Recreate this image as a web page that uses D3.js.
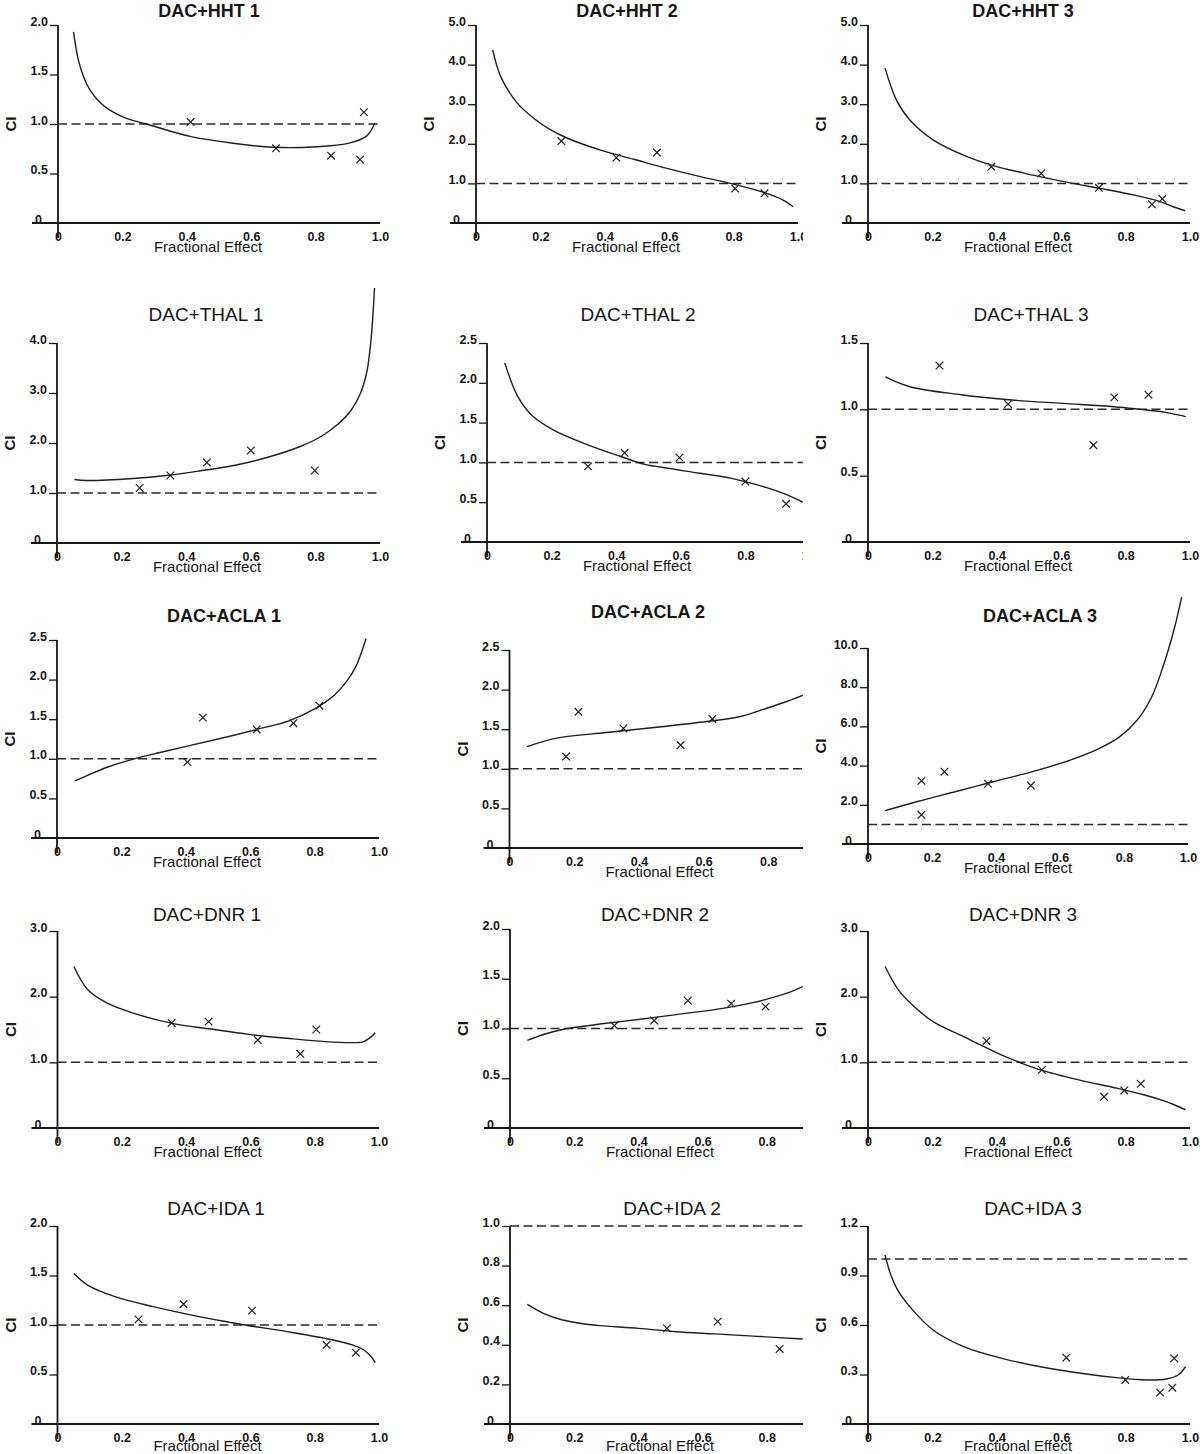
<!DOCTYPE html>
<html><head><meta charset="utf-8">
<script src="https://cdn.jsdelivr.net/npm/d3@7"></script>
<style>body{margin:0;background:#fff} svg{display:block;font-family:"Liberation Sans",Arial,sans-serif}</style>
</head><body>
<svg id="c" width="1200" height="1454"></svg>
<script>
// ---------------- DATA ----------------
const panelTitles = ["DAC+HHT 1","DAC+HHT 2","DAC+HHT 3",
  "DAC+THAL 1","DAC+THAL 2","DAC+THAL 3",
  "DAC+ACLA 1","DAC+ACLA 2","DAC+ACLA 3",
  "DAC+DNR 1","DAC+DNR 2","DAC+DNR 3",
  "DAC+IDA 1","DAC+IDA 2","DAC+IDA 3"];
const xAxisTitle = "Fractional Effect";
const yAxisTitle = "CI";
const xTickValues = [0,0.2,0.4,0.6,0.8,1.0];
const xTickLabels = ["0","0.2","0.4","0.6","0.8","1.0"];
const yTickValues = [
  [0,0.5,1,1.5,2],[0,1,2,3,4,5],[0,1,2,3,4,5],
  [0,1,2,3,4],[0,0.5,1,1.5,2,2.5],[0,0.5,1,1.5],
  [0,0.5,1,1.5,2,2.5],[0,0.5,1,1.5,2,2.5],[0,2,4,6,8,10],
  [0,1,2,3],[0,0.5,1,1.5,2],[0,1,2,3],
  [0,0.5,1,1.5,2],[0,0.2,0.4,0.6,0.8,1.0],[0,0.3,0.6,0.9,1.2]];
const yTickLabels = [
  ["0","0.5","1.0","1.5","2.0"],["0","1.0","2.0","3.0","4.0","5.0"],["0","1.0","2.0","3.0","4.0","5.0"],
  ["0","1.0","2.0","3.0","4.0"],["0","0.5","1.0","1.5","2.0","2.5"],["0","0.5","1.0","1.5"],
  ["0","0.5","1.0","1.5","2.0","2.5"],["0","0.5","1.0","1.5","2.0","2.5"],["0","2.0","4.0","6.0","8.0","10.0"],
  ["0","1.0","2.0","3.0"],["0","0.5","1.0","1.5","2.0"],["0","1.0","2.0","3.0"],
  ["0","0.5","1.0","1.5","2.0"],["0","0.2","0.4","0.6","0.8","1.0"],["0","0.3","0.6","0.9","1.2"]];
const additivityLine = 1.0;

// curves: [fractional effect, CI]
const hht1Curve = [[0.048,1.93],[0.063,1.65],[0.079,1.48],[0.10,1.34],[0.13,1.22],[0.161,1.14],[0.21,1.06],[0.275,1.0],[0.41,0.875],[0.544,0.805],[0.669,0.765],[0.803,0.77],[0.907,0.81],[0.959,0.88],[0.984,1.01]];
const hht1Points = [[0.412,1.02],[0.677,0.755],[0.848,0.68],[0.938,0.64],[0.95,1.12]];
const hht2Curve = [[0.052,4.37],[0.077,3.69],[0.129,3.02],[0.18,2.64],[0.232,2.35],[0.284,2.14],[0.387,1.84],[0.49,1.61],[0.593,1.38],[0.697,1.17],[0.80,0.98],[0.903,0.75],[0.954,0.58],[0.985,0.41]];
const hht2Points = [[0.265,2.07],[0.436,1.65],[0.562,1.78],[0.805,0.87],[0.896,0.75]];
const hht3Curve = [[0.053,3.91],[0.088,3.11],[0.13,2.6],[0.202,2.10],[0.306,1.68],[0.388,1.45],[0.512,1.21],[0.636,1.00],[0.72,0.875],[0.824,0.71],[0.907,0.54],[0.948,0.41],[0.985,0.31]];
const hht3Points = [[0.383,1.42],[0.538,1.25],[0.717,0.89],[0.882,0.47],[0.914,0.61]];
const thal1Curve = [[0.054,1.27],[0.09,1.25],[0.235,1.29],[0.338,1.35],[0.44,1.44],[0.547,1.55],[0.65,1.71],[0.753,1.93],[0.82,2.14],[0.87,2.38],[0.909,2.64],[0.94,3.0],[0.96,3.45],[0.972,4.05],[0.979,4.65],[0.983,5.1]];
const thal1Points = [[0.256,1.10],[0.351,1.35],[0.464,1.61],[0.60,1.85],[0.798,1.45]];
const thal2Curve = [[0.055,2.25],[0.095,1.83],[0.142,1.58],[0.205,1.41],[0.30,1.24],[0.41,1.08],[0.489,0.975],[0.564,0.925],[0.615,0.89],[0.757,0.80],[0.868,0.68],[0.931,0.59],[0.978,0.50]];
const thal2Points = [[0.313,0.95],[0.426,1.12],[0.596,1.06],[0.80,0.76],[0.926,0.48]];
const thal3Curve = [[0.054,1.244],[0.13,1.17],[0.289,1.11],[0.447,1.07],[0.606,1.045],[0.765,1.02],[0.844,1.0],[0.924,0.977],[0.987,0.945]];
const thal3Points = [[0.222,1.33],[0.435,1.04],[0.70,0.73],[0.765,1.09],[0.871,1.11]];
const acla1Curve = [[0.055,0.72],[0.1,0.8],[0.16,0.9],[0.24,1.0],[0.32,1.08],[0.405,1.16],[0.5,1.25],[0.62,1.37],[0.72,1.48],[0.8,1.63],[0.86,1.8],[0.9,1.98],[0.93,2.18],[0.96,2.52]];
const acla1Points = [[0.405,0.958],[0.453,1.52],[0.62,1.37],[0.734,1.45],[0.815,1.67]];
const acla2Curve = [[0.054,1.28],[0.146,1.387],[0.30,1.458],[0.455,1.525],[0.61,1.597],[0.713,1.66],[0.795,1.765],[0.857,1.85],[0.908,1.93]];
const acla2Points = [[0.175,1.155],[0.213,1.72],[0.352,1.51],[0.529,1.30],[0.627,1.63]];
const acla3Curve = [[0.053,1.7],[0.155,2.17],[0.275,2.68],[0.394,3.19],[0.514,3.69],[0.634,4.29],[0.72,4.85],[0.785,5.45],[0.84,6.3],[0.885,7.45],[0.92,8.95],[0.957,10.98],[0.98,12.6]];
const acla3Points = [[0.167,3.22],[0.239,3.69],[0.167,1.49],[0.375,3.07],[0.509,2.98]];
const dnr1Curve = [[0.051,2.46],[0.095,2.10],[0.155,1.90],[0.238,1.745],[0.357,1.593],[0.476,1.507],[0.595,1.426],[0.714,1.366],[0.833,1.315],[0.917,1.30],[0.952,1.315],[0.976,1.39],[0.988,1.45]];
const dnr1Points = [[0.355,1.60],[0.47,1.62],[0.623,1.34],[0.755,1.13],[0.805,1.50]];
const dnr2Curve = [[0.054,0.88],[0.104,0.94],[0.164,0.99],[0.235,1.025],[0.28,1.045],[0.40,1.09],[0.518,1.14],[0.638,1.19],[0.757,1.26],[0.817,1.31],[0.876,1.37],[0.912,1.42]];
const dnr2Points = [[0.325,1.03],[0.449,1.08],[0.554,1.28],[0.689,1.25],[0.796,1.22]];
const dnr3Curve = [[0.053,2.46],[0.095,2.10],[0.143,1.85],[0.202,1.62],[0.297,1.39],[0.416,1.11],[0.475,0.99],[0.535,0.885],[0.654,0.733],[0.772,0.607],[0.856,0.506],[0.915,0.42],[0.951,0.354],[0.986,0.278]];
const dnr3Points = [[0.368,1.325],[0.54,0.885],[0.733,0.475],[0.796,0.572],[0.847,0.673]];
const ida1Curve = [[0.051,1.52],[0.095,1.40],[0.179,1.286],[0.298,1.185],[0.417,1.10],[0.536,1.027],[0.595,0.993],[0.714,0.933],[0.833,0.865],[0.917,0.80],[0.952,0.75],[0.976,0.68],[0.988,0.62]];
const ida1Points = [[0.252,1.057],[0.392,1.21],[0.605,1.145],[0.837,0.80],[0.928,0.72]];
const ida2Curve = [[0.054,0.604],[0.104,0.559],[0.164,0.525],[0.235,0.505],[0.28,0.497],[0.40,0.483],[0.518,0.466],[0.638,0.455],[0.757,0.444],[0.912,0.429]];
const ida2Points = [[0.489,0.483],[0.647,0.517],[0.84,0.379]];
const ida3Curve = [[0.053,1.024],[0.071,0.903],[0.095,0.802],[0.143,0.681],[0.202,0.570],[0.297,0.469],[0.416,0.398],[0.594,0.327],[0.772,0.281],[0.868,0.267],[0.927,0.273],[0.963,0.297],[0.986,0.347]];
const ida3Points = [[0.616,0.402],[0.799,0.267],[0.907,0.19],[0.945,0.22],[0.951,0.398]];

const panelCurves = [hht1Curve,hht2Curve,hht3Curve,thal1Curve,thal2Curve,thal3Curve,acla1Curve,acla2Curve,acla3Curve,dnr1Curve,dnr2Curve,dnr3Curve,ida1Curve,ida2Curve,ida3Curve];
const panelPoints = [hht1Points,hht2Points,hht3Points,thal1Points,thal2Points,thal3Points,acla1Points,acla2Points,acla3Points,dnr1Points,dnr2Points,dnr3Points,ida1Points,ida2Points,ida3Points];

// ---------------- LAYOUT (pixel positions) ----------------
const layout = [
  {x0:58,  x1:380,  yTop:25,   yZero:223,  tx:209,  ty:17,   tw:"bold",   ts:18},
  {x0:476, x1:798,  yTop:25,   yZero:223,  tx:627,  ty:17,   tw:"bold",   ts:18, clip:true},
  {x0:868, x1:1190, yTop:25,   yZero:223,  tx:1023, ty:17,   tw:"bold",   ts:18},
  {x0:57,  x1:380,  yTop:343,  yZero:543,  tx:206,  ty:321,  tw:"normal", ts:19},
  {x0:487, x1:810,  yTop:343,  yZero:542,  tx:638,  ty:321,  tw:"normal", ts:19, clip:true},
  {x0:868, x1:1190, yTop:343,  yZero:542,  tx:1031, ty:321,  tw:"normal", ts:19},
  {x0:57,  x1:379,  yTop:640,  yZero:838,  tx:224,  ty:622,  tw:"bold",   ts:18},
  {x0:509.5,x1:833, yTop:650,  yZero:848,  tx:648,  ty:618,  tw:"bold",   ts:18, clip:true},
  {x0:868, x1:1188, yTop:648,  yZero:844,  tx:1040, ty:622,  tw:"bold",   ts:18},
  {x0:57.5,x1:379,  yTop:931,  yZero:1128, tx:207,  ty:921,  tw:"normal", ts:19},
  {x0:510, x1:831,  yTop:929,  yZero:1128, tx:655,  ty:921,  tw:"normal", ts:19, clip:true},
  {x0:868, x1:1190, yTop:931,  yZero:1128, tx:1023, ty:921,  tw:"normal", ts:19},
  {x0:57.5,x1:379,  yTop:1226, yZero:1424, tx:216,  ty:1215, tw:"normal", ts:19, fe:27},
  {x0:510, x1:831,  yTop:1226, yZero:1424, tx:672,  ty:1215, tw:"normal", ts:19, clip:true, fe:27},
  {x0:868, x1:1190, yTop:1226, yZero:1424, tx:1033, ty:1215, tw:"normal", ts:19, fe:27}
];
const clipRight = 803;
const ink = "#161616";

// ---------------- DRAW ----------------
const svg = d3.select("#c");
svg.append("rect").attr("width",1200).attr("height",1454).attr("fill","#fff");
svg.append("defs").append("clipPath").attr("id","midclip")
  .append("rect").attr("x",400).attr("y",0).attr("width",clipRight-400).attr("height",1454);

panelTitles.forEach((title, i) => {
  const L = layout[i];
  const yVals = yTickValues[i];
  const yMax = yVals[yVals.length-1];
  const x = d3.scaleLinear().domain([0,1]).range([L.x0, L.x1]);
  const y = d3.scaleLinear().domain([0,yMax]).range([L.yZero, L.yTop]);
  const g = svg.append("g");
  if (L.clip) g.attr("clip-path","url(#midclip)");

  // title
  svg.append("text").attr("x",L.tx).attr("y",L.ty).attr("text-anchor","middle")
    .attr("font-size",L.ts).attr("font-weight",L.tw).attr("fill",ink).text(title);

  // y axis via d3 axis
  const yAxis = d3.axisLeft(y).tickValues(yVals)
    .tickFormat((d,k)=>yTickLabels[i][k]).tickSize(8).tickSizeOuter(0).tickPadding(3);
  const ya = g.append("g").attr("transform",`translate(${L.x0},0)`).call(yAxis);
  ya.select(".domain").remove();
  ya.selectAll(".tick line").attr("stroke",ink).attr("stroke-width",1.3)
    .attr("display",d=>d===0?"none":null);
  ya.selectAll(".tick text").attr("dy","0").attr("font-size",12.5).attr("font-weight","bold")
    .attr("fill",ink).attr("font-family",'"Liberation Sans",Arial,sans-serif')
    .attr("x",d=>d===0?-16:-10);

  // x axis via d3 axis
  const xAxis = d3.axisBottom(x).tickValues(xTickValues)
    .tickFormat((d,k)=>xTickLabels[k]).tickSize(0).tickSizeOuter(0);
  const xa = g.append("g").attr("transform",`translate(0,${L.yZero})`).call(xAxis);
  xa.select(".domain").remove();
  xa.selectAll(".tick text").attr("y",18).attr("dy","0").attr("font-size",12.5).attr("font-weight","bold")
    .attr("fill",ink).attr("font-family",'"Liberation Sans",Arial,sans-serif');

  // axis lines
  g.append("line").attr("x1",L.x0-26).attr("x2",x(1)).attr("y1",y(0)).attr("y2",y(0))
    .attr("stroke",ink).attr("stroke-width",1.8);
  g.append("line").attr("x1",L.x0).attr("x2",L.x0).attr("y1",y(yMax)).attr("y2",y(0)+15)
    .attr("stroke",ink).attr("stroke-width",1.8);

  // additivity (CI = 1) dashed line
  g.append("line").attr("x1",x(0)).attr("x2",x(1)).attr("y1",y(additivityLine)).attr("y2",y(additivityLine))
    .attr("stroke","#2a2a2a").attr("stroke-width",1.5).attr("stroke-dasharray","9,4.5");

  // curve
  const line = d3.line().x(d=>x(d[0])).y(d=>y(d[1])).curve(d3.curveCatmullRom.alpha(0.5));
  g.append("path").datum(panelCurves[i]).attr("d",line)
    .attr("fill","none").attr("stroke","#1e1e1e").attr("stroke-width",1.4);

  // data points (x marks)
  const s = 3.8;
  g.selectAll(".pt").data(panelPoints[i]).enter().append("path")
    .attr("d",d=>{const px=x(d[0]), py=y(d[1]);
      return `M${px-s},${py-s}L${px+s},${py+s}M${px-s},${py+s}L${px+s},${py-s}`;})
    .attr("stroke","#1e1e1e").attr("stroke-width",1.2).attr("fill","none");

  // axis titles
  g.append("text").attr("x",L.x0+150).attr("y",L.yZero+(L.fe||29)).attr("text-anchor","middle")
    .attr("font-size",15).attr("fill",ink).text(xAxisTitle);
  const cy = (L.yTop+L.yZero)/2;
  svg.append("text").attr("transform",`translate(${L.x0-42},${cy}) rotate(-90)`)
    .attr("text-anchor","middle").attr("font-size",15).attr("font-weight","bold")
    .attr("fill",ink).text(yAxisTitle);
});
</script>
</body></html>
